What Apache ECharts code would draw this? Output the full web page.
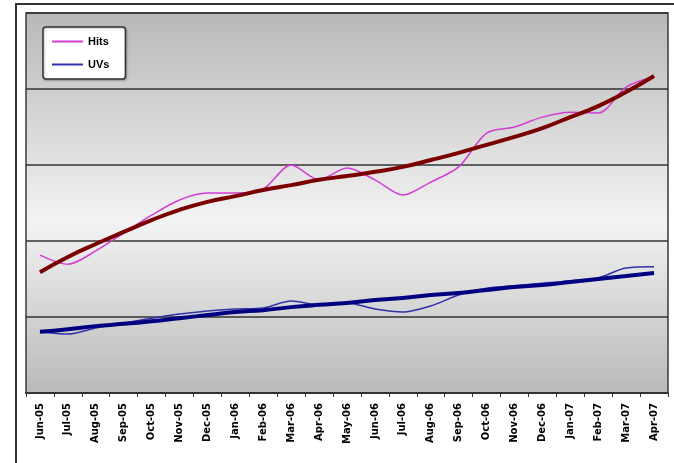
<!DOCTYPE html>
<html>
<head>
<meta charset="utf-8">
<script src="https://cdn.jsdelivr.net/npm/echarts@6/dist/echarts.min.js"></script>
<style>
  html, body { margin: 0; padding: 0; background: #ffffff; }
  #chart { width: 674px; height: 463px; }
</style>
</head>
<body>
<div id="chart"></div>
<script>
// Monthly traffic, Jun 2005 – Apr 2007
const months = ['Jun-05','Jul-05','Aug-05','Sep-05','Oct-05','Nov-05','Dec-05',
  'Jan-06','Feb-06','Mar-06','Apr-06','May-06','Jun-06','Jul-06','Aug-06','Sep-06','Oct-06','Nov-06','Dec-06',
  'Jan-07','Feb-07','Mar-07','Apr-07'];

const hits = [36.3, 33.9, 37.4, 42.1, 46.8, 50.8, 52.6, 52.6, 53.7, 60.0, 56.1, 59.2,
  56.1, 52.1, 55.5, 59.5, 68.4, 70.0, 72.6, 73.9, 73.7, 80.5, 83.2];

const hitsTrend = [31.8, 35.8, 39.2, 42.4, 45.5, 48.2, 50.3, 51.8, 53.4, 54.7, 56.1, 57.1,
  58.2, 59.5, 61.3, 63.2, 65.3, 67.4, 69.7, 72.6, 75.5, 79.2, 83.4];

const uvs = [16.1, 15.5, 17.1, 18.4, 19.7, 20.8, 21.6, 22.1, 22.4, 24.2, 23.2, 23.7,
  22.1, 21.3, 22.9, 25.8, 27.6, 28.2, 28.9, 29.5, 30.3, 32.9, 33.2];

const uvsTrend = [16.1, 16.8, 17.6, 18.2, 18.9, 19.7, 20.5, 21.3, 21.8, 22.6, 23.2, 23.7,
  24.5, 25.0, 25.8, 26.3, 27.1, 27.9, 28.4, 29.2, 30.0, 30.8, 31.6];

const chart = echarts.init(document.getElementById('chart'), null, { renderer: 'canvas' });

chart.setOption({
  animation: false,
  backgroundColor: '#ffffff',
  graphic: [{
    type: 'rect',
    shape: { x: 16, y: 4, width: 700, height: 520 },
    style: { fill: 'none', stroke: '#333333', lineWidth: 2 },
    z: -10
  }],
  grid: {
    left: 26, top: 13, right: 6, bottom: 70,
    show: true,
    borderColor: '#3a3a3a',
    borderWidth: 1.5,
    backgroundColor: {
      type: 'linear', x: 0, y: 0, x2: 0, y2: 1,
      colorStops: [
        { offset: 0, color: '#b8b8b8' },
        { offset: 0.55, color: '#f3f3f3' },
        { offset: 1, color: '#b9b9b9' }
      ]
    }
  },
  legend: {
    data: ['Hits', 'UVs'],
    orient: 'vertical',
    left: 43, top: 27,
    padding: [8, 16, 8, 9],
    itemGap: 10,
    itemWidth: 31,
    itemHeight: 2,
    icon: 'rect',
    backgroundColor: '#ffffff',
    borderColor: '#333333',
    borderWidth: 1.5,
    borderRadius: 3,
    shadowColor: 'rgba(0,0,0,0.25)',
    shadowOffsetX: 1,
    shadowOffsetY: 1,
    shadowBlur: 2,
    textStyle: {
      fontFamily: 'Liberation Sans, Arial, sans-serif',
      fontSize: 11,
      fontWeight: 'bold',
      lineHeight: 13,
      color: '#000000'
    }
  },
  xAxis: {
    type: 'category',
    data: months,
    boundaryGap: true,
    axisLine: { lineStyle: { color: '#333333', width: 2 } },
    axisTick: { show: true, length: 4, lineStyle: { color: '#333333', width: 1 } },
    axisLabel: {
      rotate: 90,
      interval: 0,
      margin: 10,
      fontFamily: 'DejaVu Sans, sans-serif',
      fontSize: 10,
      fontWeight: 'bold',
      color: '#000000'
    }
  },
  yAxis: {
    type: 'value',
    min: 0, max: 100, interval: 20,
    axisLine: { show: false },
    axisTick: { show: false },
    axisLabel: { show: false },
    splitLine: { lineStyle: { color: '#333333', width: 1.5 } }
  },
  series: [
    {
      name: 'Hits', type: 'line', data: hits,
      smooth: 0.3, showSymbol: false, symbol: 'none',
      lineStyle: { color: '#d23cd2', width: 1.5 },
      itemStyle: { color: '#d23cd2' },
      z: 2
    },
    {
      name: 'UVs', type: 'line', data: uvs,
      smooth: 0.3, showSymbol: false, symbol: 'none',
      lineStyle: { color: '#3030a8', width: 1.5 },
      itemStyle: { color: '#3030a8' },
      z: 2
    },
    {
      name: 'Hits trend', type: 'line', data: hitsTrend,
      smooth: true, showSymbol: false, symbol: 'none',
      lineStyle: { color: '#7a0000', width: 4 },
      z: 3
    },
    {
      name: 'UVs trend', type: 'line', data: uvsTrend,
      smooth: true, showSymbol: false, symbol: 'none',
      lineStyle: { color: '#000080', width: 4 },
      z: 3
    }
  ]
});
</script>
</body>
</html>
